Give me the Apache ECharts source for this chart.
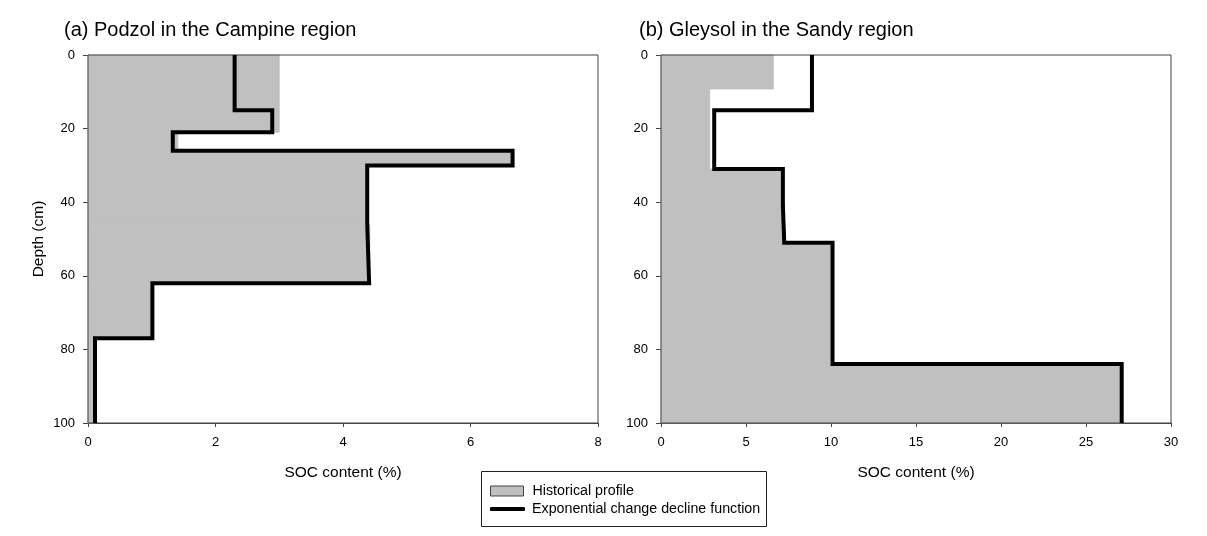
<!DOCTYPE html>
<html>
<head>
<meta charset="utf-8">
<script src="https://cdn.jsdelivr.net/npm/echarts@6/dist/echarts.min.js"></script>
<style>
html,body{margin:0;padding:0;background:#fff;}
#chart{width:1207px;height:536px;}
</style>
</head>
<body>
<div id="chart"></div>
<script>
// ---- Data (depth boundaries in cm, SOC content in %) ----
// Panel (a) Podzol in the Campine region
const histDepthA = [0, 21, 26, 30, 46, 62, 77, 100];
const histSocA   = [3.0, 1.41, 6.67, 4.38, 4.42, 1.0, 0.1];
const expDepthA  = [0, 15, 21, 26, 30, 46, 62, 77, 100];
const expSocA    = [2.3, 2.89, 1.33, 6.66, 4.38, 4.41, 1.01, 0.11];
// Panel (b) Gleysol in the Sandy region
const histDepthB = [0, 9.25, 31, 41, 51, 84, 100];
const histSocB   = [6.61, 2.87, 7.2, 7.25, 10.09, 27.1];
const expDepthB  = [0, 15, 31, 41, 51, 84, 100];
const expSocB    = [8.88, 3.13, 7.17, 7.25, 10.09, 27.1];

const titles = ['(a) Podzol in the Campine region', '(b) Gleysol in the Sandy region'];
const xMax = [8, 30];
const xInterval = [2, 5];
const yTicks = [0, 20, 40, 60, 80, 100];

const HIST = 'Historical profile';
const EXP = 'Exponential change decline function';
const FONT = "'Liberation Sans', Arial, sans-serif";
const GRAY = '#c0c0c0';
const AXIS = '#444';

function layers(depths, vals) {
  return vals.map((v, i) => [depths[i], depths[i + 1], v]);
}
function steps(depths, vals) {
  const pts = [];
  vals.forEach((v, i) => { pts.push([v, depths[i]]); pts.push([v, depths[i + 1]]); });
  return pts;
}
function renderLayer(params, api) {
  const p0 = api.coord([0, api.value(0)]);
  const p1 = api.coord([api.value(2), api.value(1)]);
  return {
    type: 'rect',
    shape: { x: p0[0], y: p0[1], width: p1[0] - p0[0], height: p1[1] - p0[1] },
    style: { fill: GRAY, stroke: GRAY, lineWidth: 0.8 }
  };
}

const chart = echarts.init(document.getElementById('chart'), null, { renderer: 'canvas' });

const grids = [
  { left: 88, top: 55, width: 510, height: 368 },
  { left: 661, top: 55, width: 510, height: 368 }
].map(g => Object.assign(g, { show: true, borderColor: AXIS, borderWidth: 1, backgroundColor: 'transparent', z: 3 }));

const xAxes = [0, 1].map(i => ({
  type: 'value', gridIndex: i, min: 0, max: xMax[i], interval: xInterval[i], position: 'bottom',
  name: 'SOC content (%)', nameLocation: 'middle', nameGap: 42,
  nameTextStyle: { fontSize: 15.5, color: '#000', fontFamily: FONT },
  axisLine: { show: true, onZero: false, lineStyle: { color: AXIS, width: 1 } },
  axisTick: { show: true, length: 4, lineStyle: { color: AXIS } },
  axisLabel: { fontSize: 13, color: '#000', fontFamily: FONT, margin: 13 },
  splitLine: { show: false }
}));

const yAxes = [0, 1].map(i => ({
  type: 'value', gridIndex: i, min: 0, max: 100, interval: yTicks[1] - yTicks[0], inverse: true, position: 'left',
  name: i === 0 ? 'Depth (cm)' : '', nameLocation: 'middle', nameGap: 41,
  nameTextStyle: { fontSize: 15.5, color: '#000', fontFamily: FONT },
  axisLine: { show: true, onZero: false, lineStyle: { color: AXIS, width: 1 } },
  axisTick: { show: true, length: 5, lineStyle: { color: AXIS } },
  axisLabel: { fontSize: 13, color: '#000', fontFamily: FONT, margin: 13 },
  splitLine: { show: false }
}));

const histSets = [layers(histDepthA, histSocA), layers(histDepthB, histSocB)];
const expSets = [steps(expDepthA, expSocA), steps(expDepthB, expSocB)];

const series = [];
[0, 1].forEach(i => {
  series.push({
    type: 'custom', name: HIST, xAxisIndex: i, yAxisIndex: i,
    renderItem: renderLayer, data: histSets[i],
    encode: { x: 2, y: [0, 1] },
    itemStyle: { color: GRAY, borderColor: '#333', borderWidth: 1 },
    z: 1, silent: true
  });
  series.push({
    type: 'line', name: EXP, xAxisIndex: i, yAxisIndex: i,
    data: expSets[i], symbol: 'none', showSymbol: false, clip: false,
    lineStyle: { color: '#000', width: 4, join: 'miter', cap: 'butt' },
    itemStyle: { color: '#000' },
    z: 5, silent: true, animation: false
  });
});

const legendText = { fontSize: 14.25, color: '#000', fontFamily: FONT };

chart.setOption({
  animation: false,
  backgroundColor: '#fff',
  title: titles.map((t, i) => ({
    text: t, left: i === 0 ? 64 : 639, top: 20, padding: 0,
    textStyle: { fontSize: 20, fontWeight: 'normal', color: '#000', fontFamily: FONT }
  })),
  graphic: [{
    type: 'rect', shape: { x: 481.5, y: 471.5, width: 285, height: 55 },
    style: { fill: 'none', stroke: '#222', lineWidth: 1 }, silent: true
  }],
  grid: grids,
  xAxis: xAxes,
  yAxis: yAxes,
  legend: [{
    orient: 'vertical', left: 490, top: 484, padding: 0,
    itemWidth: 33, itemHeight: 10,
    textStyle: Object.assign({ padding: [0, 0, 0, 4] }, legendText),
    data: [{ name: HIST, icon: 'rect', itemStyle: { color: GRAY, borderColor: '#444', borderWidth: 1 } }],
    selectedMode: false
  }, {
    orient: 'vertical', left: 490, top: 502, padding: 0,
    itemWidth: 35, itemHeight: 4,
    textStyle: Object.assign({ padding: [0, 0, 0, 2] }, legendText),
    data: [{ name: EXP, icon: 'roundRect', itemStyle: { color: '#000', borderWidth: 0 } }],
    selectedMode: false
  }],
  series: series
});
</script>
</body>
</html>
